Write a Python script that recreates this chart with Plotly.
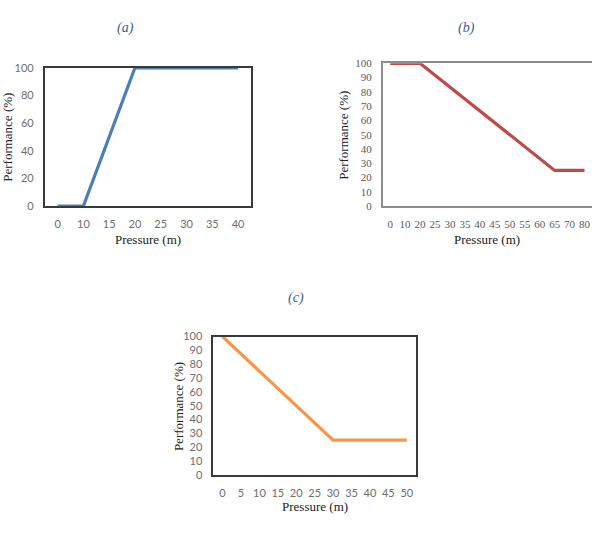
import plotly.graph_objects as go

# Data
a_x = ["0", "10", "15", "20", "25", "30", "35", "40"]
a_y = [0, 0, 50, 100, 100, 100, 100, 100]

b_x = ["0", "10", "20", "25", "30", "35", "40", "45", "50", "55", "60", "65", "70", "80"]
b_y = [100, 100, 100, 91.67, 83.33, 75, 66.67, 58.33, 50, 41.67, 33.33, 25, 25, 25]

c_x = ["0", "5", "10", "15", "20", "25", "30", "35", "40", "45", "50"]
c_y = [100, 87.5, 75, 62.5, 50, 37.5, 25, 25, 25, 25, 25]

a_yticks = [0, 20, 40, 60, 80, 100]
bc_yticks = [0, 10, 20, 30, 40, 50, 60, 70, 80, 90, 100]

W, H = 592, 539

def fx(px):
    return px / W

def fy(py):
    return 1 - py / H

fig = go.Figure()
fig.add_trace(go.Scatter(x=a_x, y=a_y, mode="lines", line=dict(color="#4a7ebb", width=3.2),
                         xaxis="x", yaxis="y", showlegend=False))
fig.add_trace(go.Scatter(x=b_x, y=b_y, mode="lines", line=dict(color="#be4b48", width=3.2),
                         xaxis="x2", yaxis="y2", showlegend=False))
fig.add_trace(go.Scatter(x=c_x, y=c_y, mode="lines", line=dict(color="#f79646", width=3.2),
                         xaxis="x3", yaxis="y3", showlegend=False))

sans = dict(family="Lato, Carlito, Liberation Sans", size=11, color="#6e6e6e")
serif_tick = dict(family="Liberation Serif, Times New Roman", size=11, color="#5a5a5a")

def xax(dom, anchor, cats, font, lc):
    return dict(domain=dom, anchor=anchor, type="category", categoryorder="array",
                categoryarray=cats, range=[-0.5, len(cats) - 0.5], showgrid=False,
                zeroline=False, showline=True, linecolor=lc, linewidth=1.5, mirror=True,
                ticks="outside", ticklen=7, tickcolor="rgba(0,0,0,0)", tickfont=font,
                fixedrange=True)

def yax(dom, anchor, ticks, font, lc, mirror=True):
    return dict(domain=dom, anchor=anchor, range=[0, 100], tickvals=ticks, showgrid=False,
                zeroline=False, showline=True, linecolor=lc, linewidth=1.5, mirror=mirror,
                ticks="outside", ticklen=7, tickcolor="rgba(0,0,0,0)", tickfont=font,
                fixedrange=True)

fig.update_layout(
    width=W, height=H, margin=dict(l=0, r=0, t=0, b=0),
    paper_bgcolor="white", plot_bgcolor="white",
    xaxis=xax([fx(44.7), fx(251)], "y", a_x, sans, "#3a3a3a"),
    yaxis=yax([fy(204), fy(62.3)], "x", a_yticks, sans, "#3a3a3a"),
    xaxis2=xax([fx(382.7), 1.0], "y2", b_x, serif_tick, "#8c8c8c"),
    yaxis2=yax([fy(204), fy(57.7)], "x2", bc_yticks, serif_tick, "#8c8c8c", mirror=False),
    xaxis3=xax([fx(213.3), fx(416)], "y3", c_x, sans, "#3a3a3a"),
    yaxis3=yax([fy(479.3), fy(337.7)], "x3", bc_yticks, sans, "#3a3a3a"),
)

title_font = dict(family="Liberation Serif, Times New Roman", size=14, color="#3b5f8f")
axt_font = dict(family="Liberation Serif, Times New Roman", size=13, color="#222222")

anns = [
    dict(text="<i>(a)</i>", x=fx(125), y=fy(22), font=title_font),
    dict(text="<i>(b)</i>", x=fx(466), y=fy(22), font=title_font),
    dict(text="<i>(c)</i>", x=fx(296), y=fy(298), font=title_font),
    dict(text="Pressure (m)", x=fx(148), y=fy(238), font=axt_font),
    dict(text="Pressure (m)", x=fx(487), y=fy(238), font=axt_font),
    dict(text="Pressure (m)", x=fx(315), y=fy(512), font=axt_font),
    dict(text="Performance (%)", x=fx(8), y=fy(134), font=axt_font, textangle=-90),
    dict(text="Performance (%)", x=fx(344), y=fy(131), font=axt_font, textangle=-90),
    dict(text="Performance (%)", x=fx(178), y=fy(410), font=axt_font, textangle=-90),
]
for a in anns:
    a.update(xref="paper", yref="paper", showarrow=False, xanchor="center", yanchor="middle")
    fig.add_annotation(**a)

fig.write_html("out.html")
